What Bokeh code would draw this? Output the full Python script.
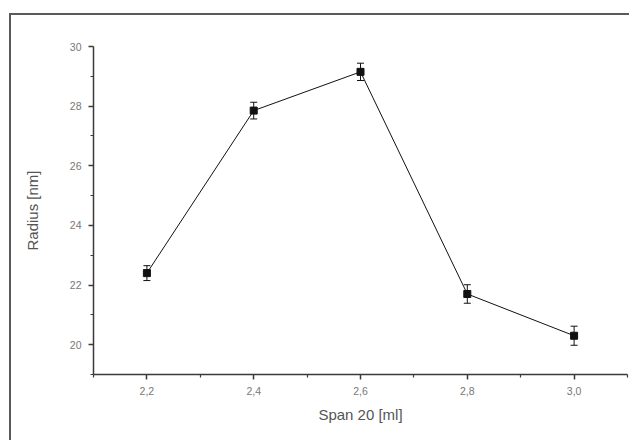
from bokeh.plotting import figure
from bokeh.models import (ColumnDataSource, Whisker, TeeHead, FixedTicker,
                          CustomJSTickFormatter, Range1d)
from bokeh.embed import file_html
from bokeh.resources import INLINE

# data
span_ml = [2.2, 2.4, 2.6, 2.8, 3.0]
radius_nm = [22.4, 27.85, 29.15, 21.7, 20.3]
radius_err = [0.25, 0.28, 0.29, 0.31, 0.32]
x_major = [2.2, 2.4, 2.6, 2.8, 3.0]
x_minor = [2.1, 2.3, 2.5, 2.7, 2.9, 3.1]
y_major = [20, 22, 24, 26, 28, 30]
y_minor = [19, 21, 23, 25, 27, 29]

src = ColumnDataSource(dict(
    x=span_ml, y=radius_nm,
    lo=[v - e for v, e in zip(radius_nm, radius_err)],
    hi=[v + e for v, e in zip(radius_nm, radius_err)],
))

p = figure(width=620, height=427, output_backend="svg", toolbar_location=None,
           x_range=Range1d(2.1, 3.1), y_range=Range1d(19, 30),
           min_border_left=82, min_border_top=31, min_border_right=4,
           min_border_bottom=68,
           styles={"margin-left": "9px", "margin-top": "13px",
                   "border-top": "2px solid #5a5a5a",
                   "border-left": "2px solid #5a5a5a"})
p.outline_line_color = None
p.grid.visible = False
p.background_fill_color = "white"
p.border_fill_color = "white"

fmt = CustomJSTickFormatter(code="return tick.toFixed(1).replace('.', ',');")
for ax in (p.xaxis, p.yaxis):
    ax.axis_line_color = "#3a3a3a"
    ax.axis_line_width = 1.5
    ax.major_tick_line_color = "#3a3a3a"
    ax.minor_tick_line_color = "#3a3a3a"
    ax.major_tick_line_width = 1.5
    ax.minor_tick_line_width = 1.2
    ax.major_tick_out = 5
    ax.major_tick_in = 0
    ax.minor_tick_out = 3
    ax.minor_tick_in = 0
    ax.major_label_text_font = "Liberation Sans"
    ax.major_label_text_font_size = "10.5px"
    ax.major_label_text_color = "#777777"
    ax.axis_label_text_font = "Liberation Sans"
    ax.axis_label_text_font_size = "15px"
    ax.axis_label_text_font_style = "normal"
    ax.axis_label_text_color = "#555555"

p.xaxis.ticker = FixedTicker(ticks=x_major, minor_ticks=x_minor)
p.yaxis.ticker = FixedTicker(ticks=y_major, minor_ticks=y_minor)
p.xaxis.formatter = fmt
p.xaxis.axis_label = "Span 20 [ml]"
p.yaxis.axis_label = "Radius [nm]"
p.xaxis.major_label_standoff = 7
p.yaxis.major_label_standoff = 7
p.xaxis.axis_label_standoff = 8
p.yaxis.axis_label_standoff = 26

p.line("x", "y", source=src, line_color="#111111", line_width=1)
w = Whisker(source=src, base="x", lower="lo", upper="hi",
            line_color="#111111", line_width=1,
            upper_head=TeeHead(size=7, line_color="#111111", line_width=1),
            lower_head=TeeHead(size=7, line_color="#111111", line_width=1))
p.add_layout(w)
p.scatter("x", "y", source=src, marker="square", size=7,
          fill_color="#111111", line_color="#111111")

open("out.html", "w").write(file_html(p, INLINE))
